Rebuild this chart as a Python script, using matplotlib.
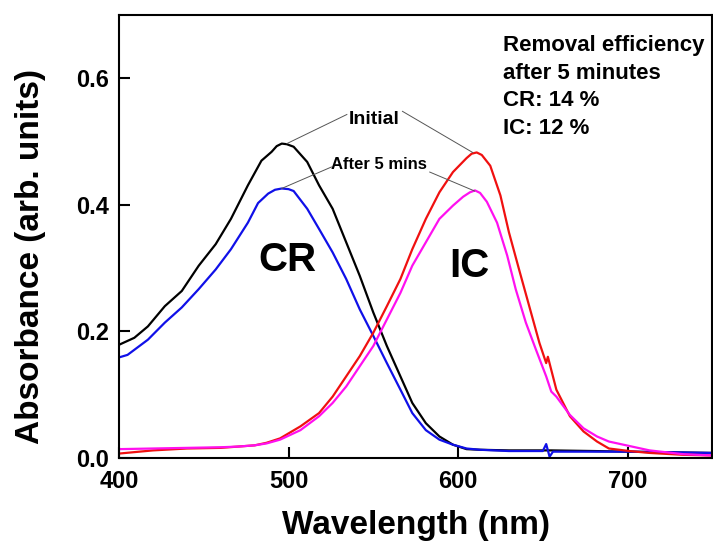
import numpy as np
import matplotlib
matplotlib.use("Agg")
import matplotlib.pyplot as plt

plt.rcParams['font.family'] = ['Liberation Sans', 'DejaVu Sans']
plt.rcParams['font.weight'] = 'bold'

# CR, initial (black)
cr0_wl = [400, 409, 417, 427, 437, 447, 457, 466, 476, 484, 490, 493, 496, 499, 503, 511, 518, 526,
          534, 542, 550, 558, 566, 573, 581, 589, 597, 605, 613, 630, 652, 653, 655, 680, 700, 725, 750]
cr0_ab = [0.179, 0.190, 0.208, 0.240, 0.264, 0.304, 0.338, 0.378, 0.431, 0.470, 0.484, 0.493, 0.497,
          0.496, 0.492, 0.468, 0.431, 0.394, 0.341, 0.288, 0.230, 0.177, 0.129, 0.087, 0.055, 0.034,
          0.021, 0.014, 0.013, 0.012, 0.012, 0.012, 0.012, 0.011, 0.010, 0.009, 0.008]

# CR, after 5 mins (blue)
cr5_wl = [400, 405, 417, 427, 437, 447, 457, 466, 476, 482, 488, 492, 496, 500, 503, 511, 518, 526,
          534, 542, 550, 558, 566, 573, 581, 589, 597, 605, 613, 630, 650, 652, 654, 656, 680, 700, 725, 750]
cr5_ab = [0.159, 0.163, 0.187, 0.214, 0.238, 0.267, 0.298, 0.330, 0.372, 0.403, 0.418, 0.424, 0.426,
          0.425, 0.422, 0.394, 0.362, 0.325, 0.283, 0.235, 0.193, 0.150, 0.108, 0.071, 0.044, 0.029,
          0.021, 0.015, 0.013, 0.011, 0.011, 0.022, 0.002, 0.010, 0.010, 0.010, 0.009, 0.008]

# IC, initial (red)
ic0_wl = [400, 420, 440, 460, 470, 480, 487, 495, 507, 518, 526, 534, 542, 550, 558, 566, 573,
          581, 589, 597, 605, 608, 611, 614, 619, 625, 630, 636, 642, 648, 652, 653, 658, 666, 674,
          682, 689, 701, 713, 733, 750]
ic0_ab = [0.007, 0.012, 0.015, 0.016, 0.018, 0.020, 0.024, 0.031, 0.050, 0.071, 0.097, 0.129, 0.161,
          0.198, 0.240, 0.283, 0.330, 0.378, 0.420, 0.452, 0.474, 0.481, 0.483, 0.479, 0.462, 0.415,
          0.357, 0.298, 0.240, 0.182, 0.150, 0.160, 0.108, 0.066, 0.042, 0.026, 0.015, 0.011, 0.008,
          0.005, 0.004]

# IC, after 5 mins (magenta)
ic5_wl = [400, 420, 440, 460, 470, 480, 487, 495, 507, 518, 526, 534, 542, 550, 558, 566, 573,
          581, 589, 597, 603, 607, 610, 613, 617, 623, 629, 634, 640, 646, 652, 655, 658, 666, 674,
          682, 689, 701, 713, 733, 750]
ic5_ab = [0.014, 0.015, 0.016, 0.017, 0.018, 0.020, 0.023, 0.029, 0.044, 0.066, 0.087, 0.113, 0.145,
          0.177, 0.219, 0.261, 0.304, 0.341, 0.378, 0.399, 0.413, 0.420, 0.423, 0.419, 0.405, 0.372,
          0.320, 0.267, 0.214, 0.171, 0.129, 0.105, 0.097, 0.068, 0.047, 0.034, 0.026, 0.019, 0.012,
          0.006, 0.004]

fig = plt.figure(figsize=(7.13, 5.42), dpi=100)
ax = fig.add_axes([0.167, 0.155, 0.832, 0.817])

ax.plot(cr0_wl, cr0_ab, color='black', lw=1.6)
ax.plot(cr5_wl, cr5_ab, color='#1010e8', lw=1.6)
ax.plot(ic0_wl, ic0_ab, color='#f01010', lw=1.6)
ax.plot(ic5_wl, ic5_ab, color='#ff10f0', lw=1.6)

ax.set_xlim(400, 750)
ax.set_ylim(0, 0.7)
ax.set_xticks([400, 500, 600, 700])
ax.set_yticks([0.0, 0.2, 0.4, 0.6])
ax.set_yticklabels(['0.0', '0.2', '0.4', '0.6'])
ax.tick_params(direction='in', length=8, width=1.5, labelsize=17)
ax.tick_params(axis='x', pad=9)
ax.tick_params(axis='y', pad=7)
for lab in ax.get_xticklabels() + ax.get_yticklabels():
    lab.set_fontweight('bold')
for s in ax.spines.values():
    s.set_linewidth(1.5)

ax.set_xlabel('Wavelength (nm)', fontsize=24, fontweight='bold')
ax.set_ylabel('Absorbance (arb. units)', fontsize=24, fontweight='bold')
ax.xaxis.set_label_coords(0.5, -0.117)
ax.yaxis.set_label_coords(-0.123, 0.454)

# labels with leader lines
ax.text(535.5, 0.5286, 'Initial', fontsize=14, fontweight='bold', ha='left', va='baseline')
ax.plot([534.4, 499], [0.543, 0.497], color='#555555', lw=0.7)
ax.plot([567.2, 608.6], [0.548, 0.483], color='#555555', lw=0.7)
ax.text(525.3, 0.457, 'After 5 mins', fontsize=12, fontweight='bold', ha='left', va='baseline')
ax.plot([525.3, 495.9], [0.460, 0.426], color='#555555', lw=0.7)
ax.plot([583.3, 609.8], [0.452, 0.422], color='#555555', lw=0.7)

ax.text(499.3, 0.2957, 'CR', fontsize=29, fontweight='bold', ha='center', va='baseline')
ax.text(606.8, 0.2857, 'IC', fontsize=29, fontweight='bold', ha='center', va='baseline')

ax.text(626.3, 0.669, 'Removal efficiency\nafter 5 minutes\nCR: 14 %\nIC: 12 %',
        fontsize=16, fontweight='bold', ha='left', va='top', linespacing=1.42)

fig.savefig('out.png', dpi=100)
